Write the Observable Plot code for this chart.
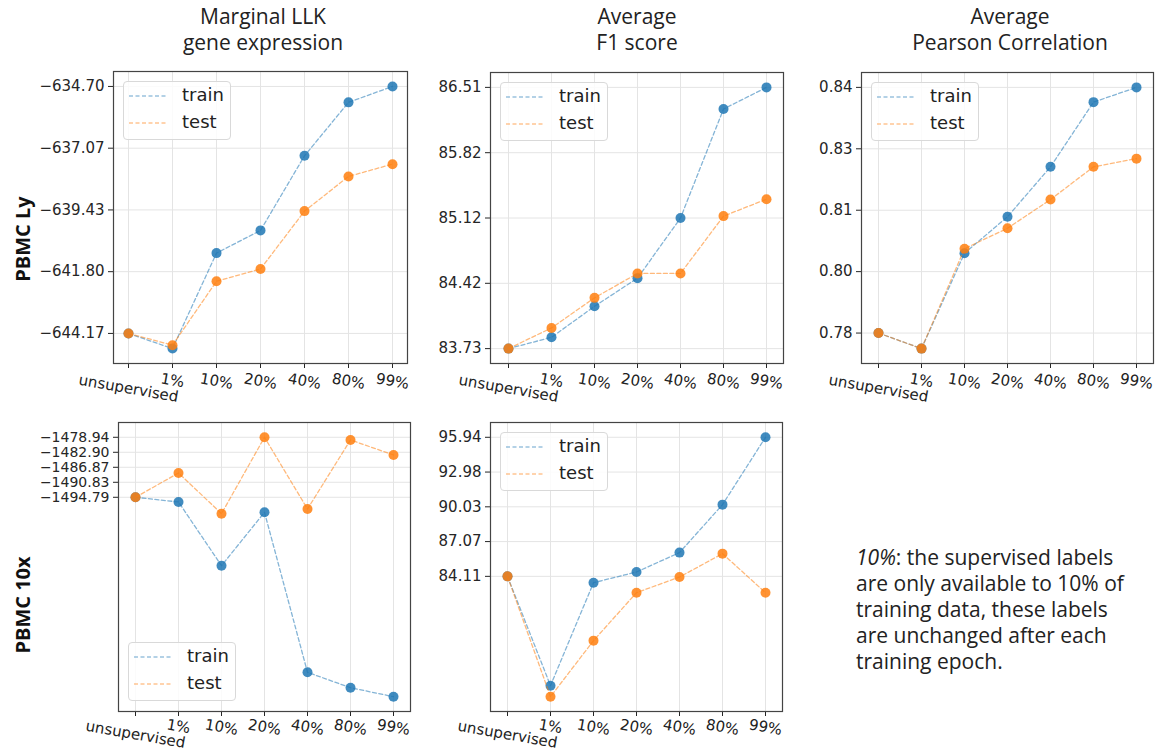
<!DOCTYPE html>
<html><head><meta charset="utf-8">
<script src="https://cdn.jsdelivr.net/npm/d3@7"></script>
<script src="https://cdn.jsdelivr.net/npm/@observablehq/plot@0.6"></script>
<style>
body{margin:0;background:#fff;}
#root{position:relative;width:1165px;height:751px;overflow:hidden;background:#fff;}
.abs{position:absolute;}
.title{font-family:"Open Sans",sans-serif;font-size:21px;color:#222;text-align:center;line-height:26px;transform:translateX(-50%);white-space:nowrap;}
.row{font-family:"Open Sans",sans-serif;font-weight:bold;font-size:20px;color:#111;transform:translate(-50%,-50%) rotate(-90deg);white-space:nowrap;}
.legend{position:absolute;box-sizing:border-box;width:108px;height:59px;border:1px solid #d9d9d9;border-radius:4px;background:rgba(255,255,255,0.85);}
.legend .item{position:absolute;left:58px;font-family:"DejaVu Sans",sans-serif;font-size:18px;color:#222;line-height:20px;}
.legend svg{position:absolute;left:5px;}
.note{font-family:"Open Sans",sans-serif;font-size:21px;color:#222;line-height:26px;white-space:nowrap;}
</style>
</head><body><div id="root"></div>
<script>
// ---- data ----
const categories = ["unsupervised","1%","10%","20%","40%","80%","99%"];
const seriesNames = ["train","test"];

const lyLlkTrain = [-644.17, -644.75, -641.09, -640.22, -637.36, -635.31, -634.70];
const lyLlkTest  = [-644.17, -644.62, -642.17, -641.70, -639.48, -638.15, -637.68];
const lyLlkTicks = [-644.17, -641.8025, -639.435, -637.0675, -634.70];
const lyLlkLabels = ["−644.17","−641.80","−639.43","−637.07","−634.70"];

const lyF1Train = [83.73, 83.85, 84.18, 84.48, 85.12, 86.28, 86.51];
const lyF1Test  = [83.73, 83.95, 84.27, 84.53, 84.53, 85.14, 85.32];
const lyF1Ticks = [83.73, 84.425, 85.12, 85.815, 86.51];
const lyF1Labels = ["83.73","84.42","85.12","85.82","86.51"];

const lyPearsonTrain = [0.780, 0.7762, 0.7995, 0.8084, 0.8206, 0.8364, 0.840];
const lyPearsonTest  = [0.780, 0.7762, 0.8006, 0.8056, 0.8126, 0.8206, 0.8226];
const lyPearsonTicks = [0.78, 0.795, 0.81, 0.825, 0.84];
const lyPearsonLabels = ["0.78","0.80","0.81","0.83","0.84"];

const x10LlkTrain = [-1494.79, -1496.03, -1512.86, -1498.75, -1541.03, -1545.09, -1547.47];
const x10LlkTest  = [-1494.79, -1488.37, -1499.12, -1478.94, -1497.88, -1479.65, -1483.61];
const x10LlkTicks = [-1494.79, -1490.8275, -1486.865, -1482.9025, -1478.94];
const x10LlkLabels = ["−1494.79","−1490.83","−1486.87","−1482.90","−1478.94"];

const x10F1Train = [84.11, 74.81, 83.57, 84.48, 86.13, 90.21, 95.94];
const x10F1Test  = [84.11, 73.87, 78.64, 82.72, 84.05, 86.04, 82.72];
const x10F1Ticks = [84.11, 87.0675, 90.025, 92.9825, 95.94];
const x10F1Labels = ["84.11","87.07","90.03","92.98","95.94"];

const colTitles = [["Marginal LLK","gene expression"],["Average","F1 score"],["Average","Pearson Correlation"]];
const rowTitles = ["PBMC Ly","PBMC 10x"];
const noteLines = ["<i>10%</i>: the supervised labels","are only available to 10% of","training data, these labels","are unchanged after each","training epoch."];

// ---- drawing ----
const root = document.getElementById("root");
const colors = {train:"#1f77b4", test:"#ff7f0e"};

function panel(train, test, ticks, labels, frame, legendBottom, yFont, labelShift) {
  const [L,T,R,B] = frame;
  const mL=95, mR=10, mT=10, mB=60;
  const rows = s => categories.map((c,i)=>({cat:c, v:(s==="train"?train:test)[i], s}));
  const all = train.concat(test);
  const lo = d3.min(all), hi = d3.max(all), pad = (hi-lo)*0.057;
  const labelMarks = categories.map(c => Plot.text([c], {
    x: d=>d, frameAnchor:"bottom", textAnchor:"middle", lineAnchor:"middle",
    rotate:10, dy: 17 + (c.length-2)*0.8 + labelShift, fontSize:15, fill:"#222"
  }));
  const marks = [
    Plot.gridY(ticks, {stroke:"#e4e4e4", strokeOpacity:1}),
    Plot.gridX(categories, {x:d=>d, stroke:"#e4e4e4", strokeOpacity:1}),
    Plot.axisY({ticks, tickFormat: d => labels[ticks.indexOf(d)], tickSize:5, tickPadding:4, fontSize:yFont, label:null}),
    Plot.axisX({tickSize:5, tickFormat: () => "", label:null}),
    ...labelMarks
  ];
  for (const s of seriesNames) {
    marks.push(Plot.line(rows(s), {x:"cat", y:"v", stroke:colors[s], strokeWidth:1.3, strokeOpacity:0.55, strokeDasharray:"4,2.5"}));
    marks.push(Plot.dot(rows(s), {x:"cat", y:"v", r:5, fill:colors[s], fillOpacity:0.85, stroke:"none"}));
  }
  marks.push(Plot.frame({stroke:"#444", strokeWidth:1.2}));
  const svg = Plot.plot({
    width: mL+(R-L)+mR, height: mT+(B-T)+mB,
    marginLeft:mL, marginRight:mR, marginTop:mT, marginBottom:mB,
    x:{type:"point", domain:categories, padding:0.34, label:null},
    y:{domain:[lo-pad, hi+pad], label:null},
    style:{fontFamily:"'DejaVu Sans', sans-serif", fontSize:"15px", color:"#262626", background:"transparent", overflow:"visible"},
    marks
  });
  svg.style.position = "absolute";
  svg.style.left = (L-mL)+"px";
  svg.style.top = (T-mT)+"px";
  root.appendChild(svg);
  // legend
  const lg = document.createElement("div");
  lg.className = "legend";
  lg.style.left = (L+10)+"px";
  if (legendBottom) lg.style.top = (B-10-59)+"px"; else lg.style.top = (T+10)+"px";
  seriesNames.forEach((s,k) => {
    const cy = 14 + k*26.7;
    lg.insertAdjacentHTML("beforeend",
      `<svg width="40" height="4" style="top:${cy-2}px"><line x1="0" y1="2" x2="39" y2="2" stroke="${colors[s]}" stroke-opacity="0.45" stroke-width="1.3" stroke-dasharray="4,2.5"/></svg>` +
      `<div class="item" style="top:${cy-11}px">${s}</div>`);
  });
  root.appendChild(lg);
}

panel(lyLlkTrain, lyLlkTest, lyLlkTicks, lyLlkLabels, [113,71,407,363], false, 15, 0);
panel(lyF1Train, lyF1Test, lyF1Ticks, lyF1Labels, [490,72,783,363], false, 15, 0);
panel(lyPearsonTrain, lyPearsonTest, lyPearsonTicks, lyPearsonLabels, [861,72,1153,363], false, 15, 0);
panel(x10LlkTrain, x10LlkTest, x10LlkTicks, x10LlkLabels, [118,422,410,711], true, 14, -2);
panel(x10F1Train, x10F1Test, x10F1Ticks, x10F1Labels, [490,422,782,711], false, 15, -2);

// titles
const titleX = [263, 637, 1010];
colTitles.forEach((t,i) => {
  const d = document.createElement("div");
  d.className = "abs title";
  d.style.left = titleX[i]+"px"; d.style.top = "3px";
  d.innerHTML = t.join("<br>");
  root.appendChild(d);
});
const rowY = [239, 605];
rowTitles.forEach((t,i) => {
  const d = document.createElement("div");
  d.className = "abs row";
  d.style.left = "22px"; d.style.top = rowY[i]+"px";
  d.textContent = t;
  root.appendChild(d);
});
const note = document.createElement("div");
note.className = "abs note";
note.style.left = "856px"; note.style.top = "544px";
note.innerHTML = noteLines.join("<br>");
root.appendChild(note);
</script>
</body></html>
